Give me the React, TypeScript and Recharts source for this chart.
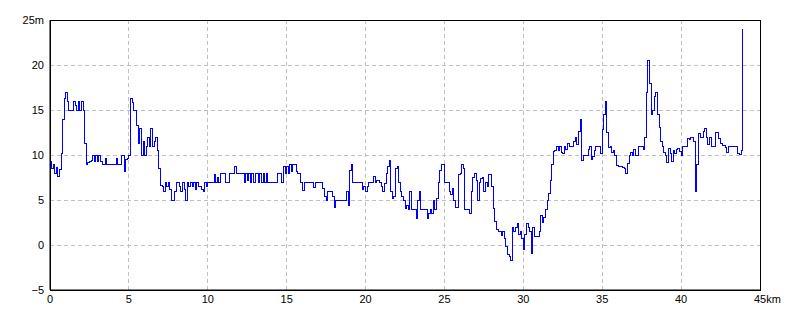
import { LineChart, Line, XAxis, YAxis, CartesianGrid, ReferenceArea } from "recharts";

// elevation (m), one row per kilometre, one sample every 0.1 km
const elevationRows: number[][] = [
  [9.3, 8.5, 9, 8, 8.6, 7.6, 8.4, 10.2, 14, 16.3],
  [17, 16, 15, 15, 15, 16, 15.5, 15, 16, 15],
  [16, 15, 11.3, 8.9, 9.2, 9.3, 9.4, 10, 9.3, 10],
  [9.3, 10, 9.3, 9, 9, 9.6, 9, 9, 9, 9],
  [9, 9, 9.6, 9, 9, 10, 10, 8.2, 9.5, 9.6],
  [10, 16.3, 15.8, 15, 15, 13.3, 11.3, 13, 10, 11.5],
  [10, 11, 12, 11, 13, 11, 11.5, 12, 10.5, 8.5],
  [6.6, 6.5, 6, 7, 6.5, 7, 6.2, 5, 5, 6],
  [7, 7, 6.5, 6, 7, 6.2, 5, 7, 6.5, 7],
  [6.5, 7, 6.2, 7, 6.5, 6.5, 6.2, 6, 7, 6.5],
  [7, 7, 7, 7, 7.8, 7, 7.5, 7, 8, 8],
  [8, 7, 7, 7, 8, 8, 8, 8.7, 8, 8],
  [8, 8, 8, 7, 8, 7.2, 8, 7, 8, 7],
  [8, 8, 7, 8, 7, 8, 7, 8, 7, 7],
  [7, 7, 7, 7, 8, 8, 8, 7, 8.7, 8],
  [8.7, 8, 9, 8.2, 9, 9, 8.2, 8, 8, 7],
  [6.1, 7, 7, 7, 7, 7, 7, 6.4, 7, 7],
  [7, 7, 7, 6.3, 5.4, 5, 5.9, 5.9, 5.9, 5.4],
  [4.2, 5, 5, 5, 5, 5, 5, 5, 5.9, 4.4],
  [8.3, 9, 7, 7, 7, 7, 7, 7, 6.2, 6.5],
  [5.9, 6.5, 7, 7, 7, 7.6, 7, 7.2, 7.2, 7],
  [6.5, 5.9, 6.8, 8, 8.7, 9.4, 5.9, 5.2, 5.4, 8.5],
  [8.7, 7, 6, 5.4, 5, 4.1, 4.4, 3.9, 5.9, 3.9],
  [3.9, 3.9, 3, 5, 5.9, 3.9, 3.9, 3.9, 3.9, 3],
  [3.5, 4, 3.5, 5, 4, 5.2, 7, 8.3, 9, 9],
  [7, 7, 7, 6, 5.6, 6.3, 5, 4.2, 4.2, 7.8],
  [8, 8.9, 8.5, 3.9, 3.9, 3.9, 3.5, 5.9, 7.5, 8],
  [7.2, 5, 7, 7.4, 7.5, 6, 7, 6.5, 7.8, 7.8],
  [6.5, 4.1, 2.6, 1.7, 1.5, 1.5, 1.1, 1.5, 0.7, -0.2],
  [-1.1, -1.3, -1.7, 2, 1.5, 2, 2.4, 1.2, 1.5, 0.7],
  [-0.5, 1.2, 2.4, 2, 1.5, -0.9, 2, 0.9, 0.9, 0.9],
  [1.5, 3.3, 2.5, 3.1, 4, 5, 5.7, 7.2, 8.9, 10.4],
  [10.5, 10.9, 10.5, 10.9, 10.3, 10.2, 10.9, 10.6, 11.3, 10.9],
  [10.9, 10.9, 11.5, 11.9, 11.2, 12.6, 14, 9.4, 10, 10],
  [10, 10.6, 10.9, 9.5, 9.8, 10.5, 10.9, 10.9, 10.9, 10.2],
  [12.8, 14.5, 15.9, 12.5, 10.8, 10.9, 10.3, 10.5, 10, 8.8],
  [8.7, 8.7, 8.7, 8.6, 8.5, 8, 9.1, 10, 10.3, 10],
  [10.6, 10, 10, 10.9, 10.9, 10.9, 10.6, 12, 17, 20.5],
  [18, 14.5, 15, 16.5, 17, 14.5, 13.1, 11.5, 11, 10.3],
  [10, 9.2, 10.7, 10.2, 9.3, 10.5, 10.2, 10.6, 10.7, 10.4],
  [10, 10.9, 10.9, 10.9, 11.8, 11.7, 11.9, 11.9, 11.5, 6],
  [9, 12.4, 12, 12, 12.6, 13, 12, 11.2, 12, 10.9],
  [10.9, 10.9, 12.5, 12.5, 11.8, 11.3, 11.1, 11.1, 10.8, 10.3],
  [11, 10.9, 10.9, 10.9, 10.9, 10.9, 10.2, 10.1, 10.5, 24],
];

const kmTicks = [0, 5, 10, 15, 20, 25, 30, 35, 40, 45];
const mTicks = [-5, 0, 5, 10, 15, 20, 25];

const data = elevationRows.flatMap((row, k) =>
  row.map((m, j) => ({ km: k + j / 10, m }))
);

const font = { fontFamily: "'Liberation Sans', Arial, sans-serif", fontSize: 11, fill: "#000" };

function KmTick({ x, y, payload }: any) {
  const last = payload.value === 45;
  return (
    <text x={last ? x - 6 : x} y={y} dy="0.71em" textAnchor={last ? "start" : "middle"} {...font}>
      {last ? "45km" : payload.value}
    </text>
  );
}

const fmtM = (v: number) => (v === 25 ? "25m" : v < 0 ? `\u2212${-v}` : `${v}`);

export default function App() {
  return (
    <div style={{ position: "absolute", left: 0, top: 0, width: 800, height: 320, background: "#fff" }}>
      <LineChart width={800} height={320} data={data} margin={{ top: 20, right: 40, bottom: 0, left: 0 }}>
        <CartesianGrid stroke="#c0c0c0" strokeDasharray="4 3" shapeRendering="crispEdges" />
        <XAxis
          dataKey="km"
          type="number"
          domain={[0, 45]}
          ticks={kmTicks}
          height={30}
          tickLine={false}
          tickSize={0}
          tickMargin={5}
          axisLine={{ stroke: "#000" }}
          tick={<KmTick />}
        />
        <YAxis
          type="number"
          domain={[-5, 25]}
          ticks={mTicks}
          width={50}
          tickLine={false}
          tickSize={0}
          tickMargin={6}
          axisLine={{ stroke: "#000" }}
          tick={font}
          tickFormatter={fmtM}
        />
        <ReferenceArea x1={0} x2={45} y1={-5} y2={25} fill="none" stroke="#000" strokeWidth={1} shapeRendering="crispEdges" />
        <Line
          type="stepAfter"
          dataKey="m"
          stroke="#0000ff"
          strokeWidth={1}
          dot={false}
          shapeRendering="crispEdges"
          isAnimationActive={false}
        />
      </LineChart>
    </div>
  );
}
